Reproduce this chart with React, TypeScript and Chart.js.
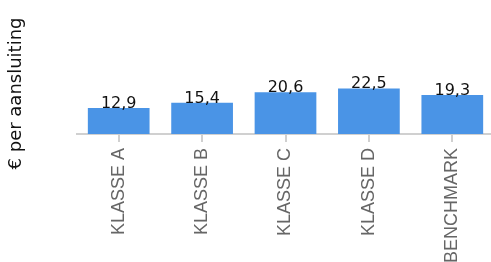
import React, { useEffect, useRef } from "react";
import { Chart, registerables } from "chart.js";

Chart.register(...registerables);

const categories = ["KLASSE A", "KLASSE B", "KLASSE C", "KLASSE D", "BENCHMARK"];
const values = [12.9, 15.4, 20.6, 22.5, 19.3];
const yTitle = "€ per aansluiting";
const yMin = 0;
const yMax = 40;

const fmt = (v: number) => v.toFixed(1).replace(".", ",");

const valueLabels = {
  id: "valueLabels",
  afterDatasetsDraw(chart: any) {
    const ctx = chart.ctx;
    const meta = chart.getDatasetMeta(0);
    ctx.save();
    ctx.font = '16px "DejaVu Sans"';
    ctx.fillStyle = "#111";
    ctx.textAlign = "center";
    ctx.textBaseline = "alphabetic";
    meta.data.forEach((bar: any, i: number) => {
      ctx.fillText(fmt(values[i]), bar.x, bar.y);
    });
    ctx.restore();
  },
};

export default function App() {
  const ref = useRef<HTMLCanvasElement>(null);
  useEffect(() => {
    if (!ref.current) return;
    const chart = new Chart(ref.current, {
      type: "bar",
      data: {
        labels: categories,
        datasets: [
          {
            data: values,
            backgroundColor: "#4a94e6",
            barPercentage: 0.74,
            categoryPercentage: 1,
          },
        ],
      },
      options: {
        animation: false,
        responsive: true,
        maintainAspectRatio: false,
        layout: { padding: { top: 53, left: 0, right: 0, bottom: 0 } },
        plugins: { legend: { display: false }, tooltip: { enabled: false } },
        scales: {
          x: {
            afterFit: (s: any) => {
              s.height = 166;
            },
            border: { display: true, color: "#d0d0d0", width: 2 },
            grid: {
              offset: false,
              drawOnChartArea: false,
              drawTicks: true,
              tickLength: 8,
              color: "#d0d0d0",
              lineWidth: 2,
            },
            ticks: {
              autoSkip: false,
              minRotation: 90,
              maxRotation: 90,
              color: "#666",
              padding: 6,
              font: { family: '"Liberation Sans", Arial', size: 18 },
            },
          },
          y: {
            min: yMin,
            max: yMax,
            afterFit: (s: any) => {
              s.width = 77;
            },
            border: { display: false },
            grid: { display: false },
            ticks: { display: false },
            title: {
              display: true,
              text: yTitle,
              color: "#111",
              padding: { top: 6, bottom: 4 },
              font: { family: '"DejaVu Sans"', size: 18 },
            },
          },
        },
      },
      plugins: [valueLabels],
    });
    return () => chart.destroy();
  }, []);
  return (
    <div
      style={{
        position: "fixed",
        left: 0,
        top: 0,
        width: 494,
        height: 300,
      }}
    >
      <canvas ref={ref} />
    </div>
  );
}
